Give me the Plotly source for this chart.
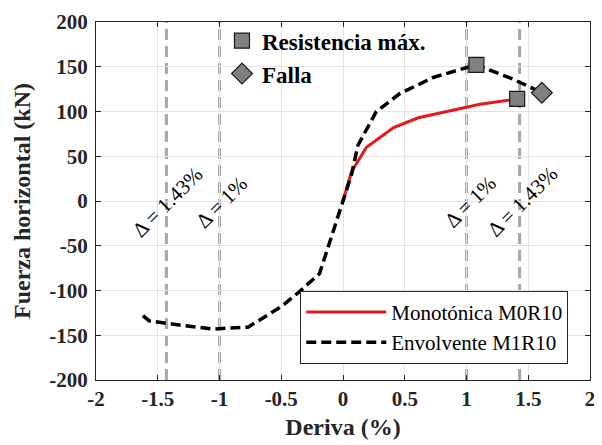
import plotly.graph_objects as go

# Data
env_x = [-1.62, -1.57, -1.30, -1.05, -0.77, -0.50, -0.35, -0.19, 0.0, 0.07, 0.12, 0.27, 0.46, 0.73, 1.00, 1.08, 1.38, 1.61]
env_y = [-128, -134, -139, -143, -141, -118, -101, -81, 0, 30, 62, 100, 120, 138, 149, 152, 136, 121]
mono_x = [0.0, 0.07, 0.19, 0.41, 0.61, 0.87, 1.11, 1.41]
mono_y = [0, 33, 60, 82, 93, 101, 108, 114]
max_x = [1.08, 1.41]
max_y = [152, 114]
fail_x = [1.61]
fail_y = [121]
drift_limits = [-1.43, -1.0, 1.0, 1.43]
drift_labels = ["Δ = 1.43%", "Δ = 1%", "Δ = 1%", "Δ = 1.43%"]
label_x = [-1.42, -0.98, 1.03, 1.45]
label_y = [-1, -1, -1, -1]
xtick_vals = [-2, -1.5, -1, -0.5, 0, 0.5, 1, 1.5, 2]
xtick_text = ["-2", "-1.5", "-1", "-0.5", "0", "0.5", "1", "1.5", "2"]
ytick_vals = [-200, -150, -100, -50, 0, 50, 100, 150, 200]
ytick_text = ["-200", "-150", "-100", "-50", "0", "50", "100", "150", "200"]

SERIF = "Liberation Serif, DejaVu Serif, serif"
fig = go.Figure()

for xv in drift_limits:
    fig.add_shape(type="line", x0=xv, x1=xv, y0=0, y1=1, xref="x", yref="paper",
                  line=dict(color="#a6a6a6", width=3, dash="11px,6px"), layer="below")

fig.add_trace(go.Scatter(x=mono_x, y=mono_y, mode="lines", name="Monotónica M0R10",
                         line=dict(color="#e31a1c", width=3), legend="legend2"))
fig.add_trace(go.Scatter(x=env_x, y=env_y, mode="lines", name="Envolvente M1R10",
                         line=dict(color="black", width=3.5, dash="10px,5px"), legend="legend2"))
fig.add_trace(go.Scatter(x=max_x, y=max_y, mode="markers", name="Resistencia máx.",
                         marker=dict(symbol="square", size=15, color="#808080",
                                     line=dict(color="#1a1a1a", width=1.2)), legend="legend"))
fig.add_trace(go.Scatter(x=fail_x, y=fail_y, mode="markers", name="Falla",
                         marker=dict(symbol="diamond", size=16, color="#808080",
                                     line=dict(color="#1a1a1a", width=1.2)), legend="legend"))

for t, xv, yv in zip(drift_labels, label_x, label_y):
    fig.add_annotation(x=xv, y=yv, text=t, showarrow=False, textangle=-45,
                       font=dict(family=SERIF, size=21, color="black"))

# y-axis title placed as a rotated annotation for exact positioning
fig.add_annotation(x=-0.1498, y=0.5, xref="paper", yref="paper", text="Fuerza horizontal (kN)",
                   showarrow=False, textangle=-90, xanchor="center", yanchor="middle",
                   font=dict(family=SERIF, size=24, color="#262626", weight="bold"))

axis_common = dict(showline=True, linecolor="#262626", linewidth=1, mirror="ticks",
                   ticks="inside", ticklen=5, tickcolor="#262626", automargin=False,
                   showgrid=True, gridcolor="#e3e3e3", gridwidth=1, zeroline=False,
                   tickfont=dict(family=SERIF, size=21, color="#262626", weight="bold"))

fig.update_layout(
    width=594, height=437,
    font=dict(family=SERIF),
    margin=dict(l=88, r=12, t=13, b=65),
    paper_bgcolor="white", plot_bgcolor="white",
    xaxis=dict(range=[-2, 2], tickvals=xtick_vals, ticktext=xtick_text,
               title=dict(text="Deriva (%)", standoff=7,
                          font=dict(family=SERIF, size=24, color="#262626", weight="bold")),
               **axis_common),
    yaxis=dict(range=[-200, 200], tickvals=ytick_vals, ticktext=ytick_text,
               ticklabelstandoff=3, **axis_common),
    legend=dict(x=0.255, y=1.005, xanchor="left", yanchor="top", bgcolor="rgba(0,0,0,0)",
                borderwidth=0, itemwidth=30, tracegroupgap=0,
                font=dict(family=SERIF, size=23, color="black", weight="bold")),
    legend2=dict(x=0.956, y=0.045, xanchor="right", yanchor="bottom", bgcolor="white",
                 bordercolor="#262626", borderwidth=1, itemwidth=80,
                 font=dict(family=SERIF, size=21, color="black")),
)

fig.write_html("out.html")
